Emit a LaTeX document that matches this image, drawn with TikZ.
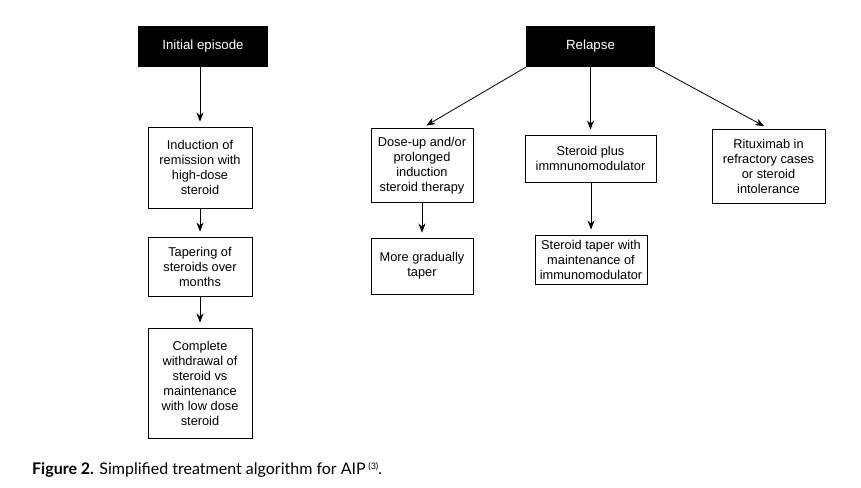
\documentclass[tikz,border=0pt]{standalone}
\usepackage{fontspec}
\setmainfont{Liberation Sans}
\newfontfamily\capfont{Lato}
\usetikzlibrary{arrows.meta}
\begin{document}
\begin{tikzpicture}[x=1pt,y=-1pt,
  box/.style={draw=black,line width=0.9pt,align=center,inner sep=0pt,
    font=\fontsize{12.8}{15}\selectfont},
  head/.style={fill=black,text=white,align=center,inner sep=0pt,
    font=\fontsize{13.3}{15}\selectfont},
  arr/.style={line width=0.8pt,-{Stealth[length=9pt,width=7pt]},shorten >=5pt}]
\useasboundingbox[fill=white] (0,0) rectangle (861,487);
\node[head,minimum width=130pt,minimum height=41pt] (init) at (203,46.5) {Initial episode};
\node[head,minimum width=129pt,minimum height=41pt] (relapse) at (590.5,46.5) {Relapse};
\node[box,minimum width=104pt,minimum height=81pt] (ind) at (200,167.5) {Induction of\\remission with\\high-dose\\steroid};
\node[box,minimum width=104pt,minimum height=59pt] (tap) at (200,266.5) {Tapering of\\steroids over\\months};
\node[box,minimum width=104pt,minimum height=110pt] (comp) at (200,383) {Complete\\withdrawal of\\steroid vs\\maintenance\\with low dose\\steroid};
\node[box,minimum width=102pt,minimum height=74pt] (dose) at (422,165.5) {Dose-up and/or\\prolonged\\induction\\steroid therapy};
\node[box,minimum width=102pt,minimum height=56pt] (grad) at (422,266) {More gradually\\taper};
\node[box,minimum width=131pt,minimum height=47pt] (splus) at (590.5,158.5) {Steroid plus\\immnunomodulator};
\node[box,minimum width=112pt,minimum height=49pt] (staper) at (591,259.5) {Steroid taper with\\maintenance of\\immunomodulator};
\node[box,minimum width=113pt,minimum height=74pt] (ritux) at (768.5,166) {Rituximab in\\refractory cases\\or steroid\\intolerance};
\draw[arr] (init.south -| ind.north) -- (ind.north);
\draw[arr] (ind.south) -- (tap.north);
\draw[arr] (tap.south) -- (comp.north);
\draw[arr] (relapse.south west) -- (dose.north);
\draw[arr] (relapse.south -| splus.north) -- (splus.north);
\draw[arr] (relapse.south east) -- (ritux.north);
\draw[arr] (dose.south) -- (grad.north);
\draw[arr] (splus.south -| staper.north) -- (staper.north);
\node[anchor=west,inner sep=0pt,font=\capfont\fontsize{16}{18}\selectfont] (cap) at (32,470)
  {\textbf{Figure 2.} Simplified treatment algorithm for AIP\,\raisebox{0.6ex}{\fontsize{9}{10}\selectfont(3)}.};
\end{tikzpicture}
\end{document}
